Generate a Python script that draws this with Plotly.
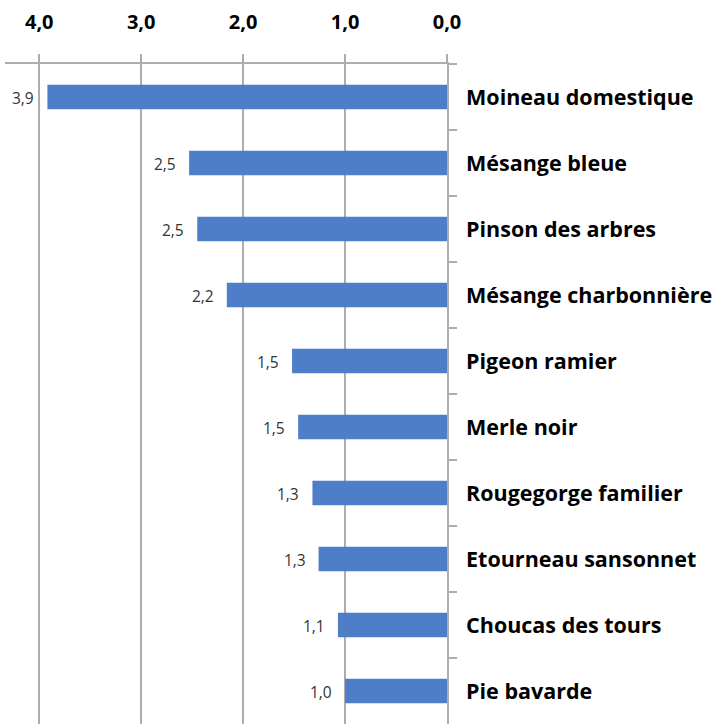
import plotly.graph_objects as go

categories = ["Moineau domestique", "Mésange bleue", "Pinson des arbres",
              "Mésange charbonnière", "Pigeon ramier", "Merle noir",
              "Rougegorge familier", "Etourneau sansonnet", "Choucas des tours",
              "Pie bavarde"]
values = [3.92, 2.53, 2.45, 2.16, 1.52, 1.46, 1.32, 1.26, 1.07, 1.00]
tick_vals = [4, 3, 2, 1, 0]
tick_text = ["4,0", "3,0", "2,0", "1,0", "0,0"]

BAR = "#4E7EC8"
GRID = "#ADADAD"
FONT = "Open Sans"

fig = go.Figure(go.Bar(
    x=values, y=categories, orientation="h",
    marker=dict(color=BAR, line=dict(width=0)),
    width=0.37,
))

annotations = []
for c, v in zip(categories, values):
    annotations.append(dict(
        x=v, y=c, xref="x", yref="y",
        text=f"{v:.1f}".replace(".", ","),
        showarrow=False, xanchor="right", yanchor="middle",
        xshift=-11, yshift=-1,
        font=dict(family=FONT, size=15.5, color="#333333"),
    ))

fig.update_layout(
    width=716, height=724,
    margin=dict(l=5, r=269, t=64, b=0, pad=0),
    paper_bgcolor="white", plot_bgcolor="white",
    showlegend=False,
    bargap=0.63,
    annotations=annotations,
    xaxis=dict(
        range=[4.336, 0], side="top", automargin=False,
        tickmode="array", tickvals=tick_vals, ticktext=tick_text,
        showgrid=True, gridcolor=GRID, gridwidth=1.5,
        showline=True, linecolor=GRID, linewidth=1.5,
        ticks="outside", ticklen=8, tickcolor=GRID, tickwidth=1.5,
        tickfont=dict(family=FONT, size=20, color="#000000", weight="bold"),
        ticklabelstandoff=17,
        zeroline=False, fixedrange=True,
    ),
    yaxis=dict(
        side="right", autorange="reversed", automargin=False,
        categoryorder="array", categoryarray=categories,
        showline=True, linecolor=GRID, linewidth=1.5,
        ticks="outside", ticklen=8, tickcolor=GRID, tickwidth=1.5,
        tickson="boundaries",
        tickfont=dict(family=FONT, size=21.5, color="#000000", weight="bold"),
        ticklabelstandoff=13,
        showgrid=False, fixedrange=True,
    ),
)

fig.write_html(
    "out.html",
    config={"displayModeBar": False},
    post_script="document.body.style.margin='0';document.body.style.overflow='hidden';",
)
